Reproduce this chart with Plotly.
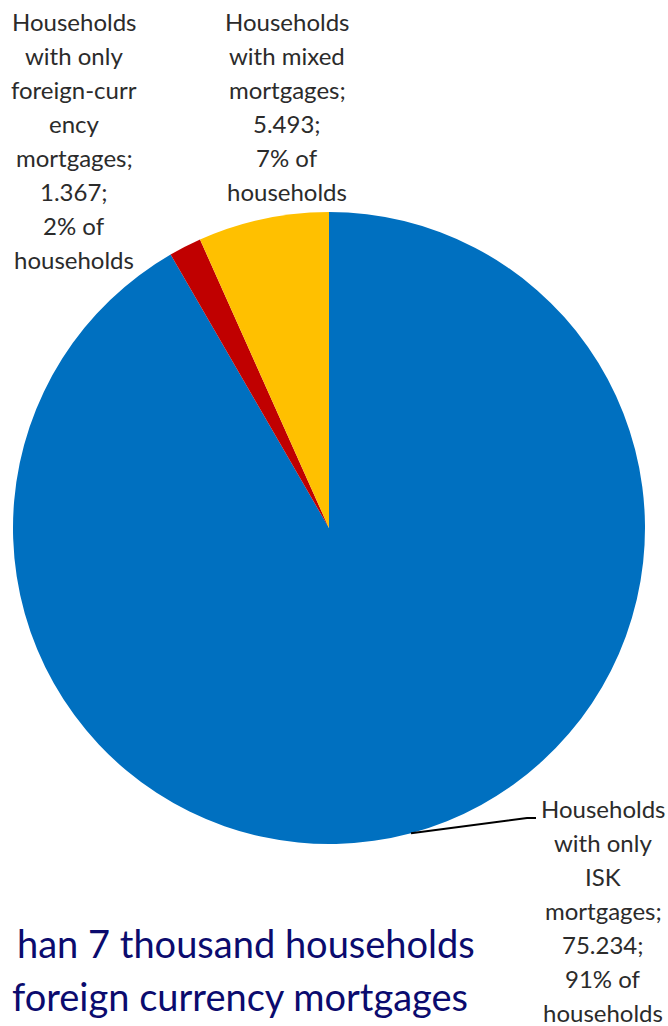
import math
import plotly.graph_objects as go

# household counts by mortgage type (clockwise from 12 o'clock)
categories = ["ISK", "foreign", "mixed"]
households = [75234, 1367, 5493]
shares = ["91%", "2%", "7%"]
colors = ["#0070C0", "#C00000", "#FFC000"]

label_lines = {
    "ISK": ["Households", "with only", "ISK", "mortgages;"],
    "foreign": ["Households", "with only", "foreign-curr", "ency", "mortgages;"],
    "mixed": ["Households", "with mixed", "mortgages;"],
}

caption_lines = ["han 7 thousand households", "foreign currency mortgages"]

W, H = 668, 1026
CX, CY, R = 329, 528, 316


def px(x):
    return x / W


def py(y):
    return 1 - y / H


def fmt(n):
    return f"{n:,}".replace(",", ".")


fig = go.Figure()
fig.add_trace(go.Pie(
    labels=categories,
    values=households,
    sort=False,
    direction="clockwise",
    rotation=0,
    textinfo="none",
    hoverinfo="skip",
    marker=dict(colors=colors, line=dict(width=0)),
    domain=dict(x=[px(CX - R), px(CX + R)], y=[py(CY + R), py(CY - R)]),
    showlegend=False,
))

# label blocks: centre x and first line y (pixels)
label_pos = {"foreign": (74, 21), "mixed": (287, 21), "ISK": (603, 808)}
line_gap = 34.1
font = dict(family="Lato", size=24, color="#2b2b2b")
for i, c in enumerate(categories):
    lines = label_lines[c] + [fmt(households[i]) + ";", shares[i] + " of", "households"]
    x0, y0 = label_pos[c]
    for j, t in enumerate(lines):
        fig.add_annotation(x=px(x0), y=py(y0 + j * line_gap), xref="paper", yref="paper",
                           text=t, showarrow=False, xanchor="center", yanchor="middle", font=font)

# leader line for the ISK slice, from the slice's mid angle
total = sum(households)
mid = households[0] / total * 360 / 2
sx = CX + R * math.sin(math.radians(mid))
sy = CY - R * math.cos(math.radians(mid))
fig.add_shape(type="path", xref="paper", yref="paper",
              path=f"M {px(sx)} {py(sy)} L {px(527)} {py(818)} L {px(536)} {py(818)}",
              line=dict(color="black", width=2))

cap_font = dict(family="Lato", size=38, color="#0B0B6E")
for j, t in enumerate(caption_lines):
    fig.add_annotation(x=px(477 - j * 7), y=py(943 + j * 53), xref="paper", yref="paper",
                       text=t, showarrow=False, xanchor="right", yanchor="middle", font=cap_font)

fig.update_layout(width=W, height=H, margin=dict(l=0, r=0, t=0, b=0),
                  paper_bgcolor="white", plot_bgcolor="white")
# drop the browser's default body margin so the figure fills the window exactly
fig.write_html("out.html", config={"displayModeBar": False},
               post_script="document.body.style.margin='0px';")
